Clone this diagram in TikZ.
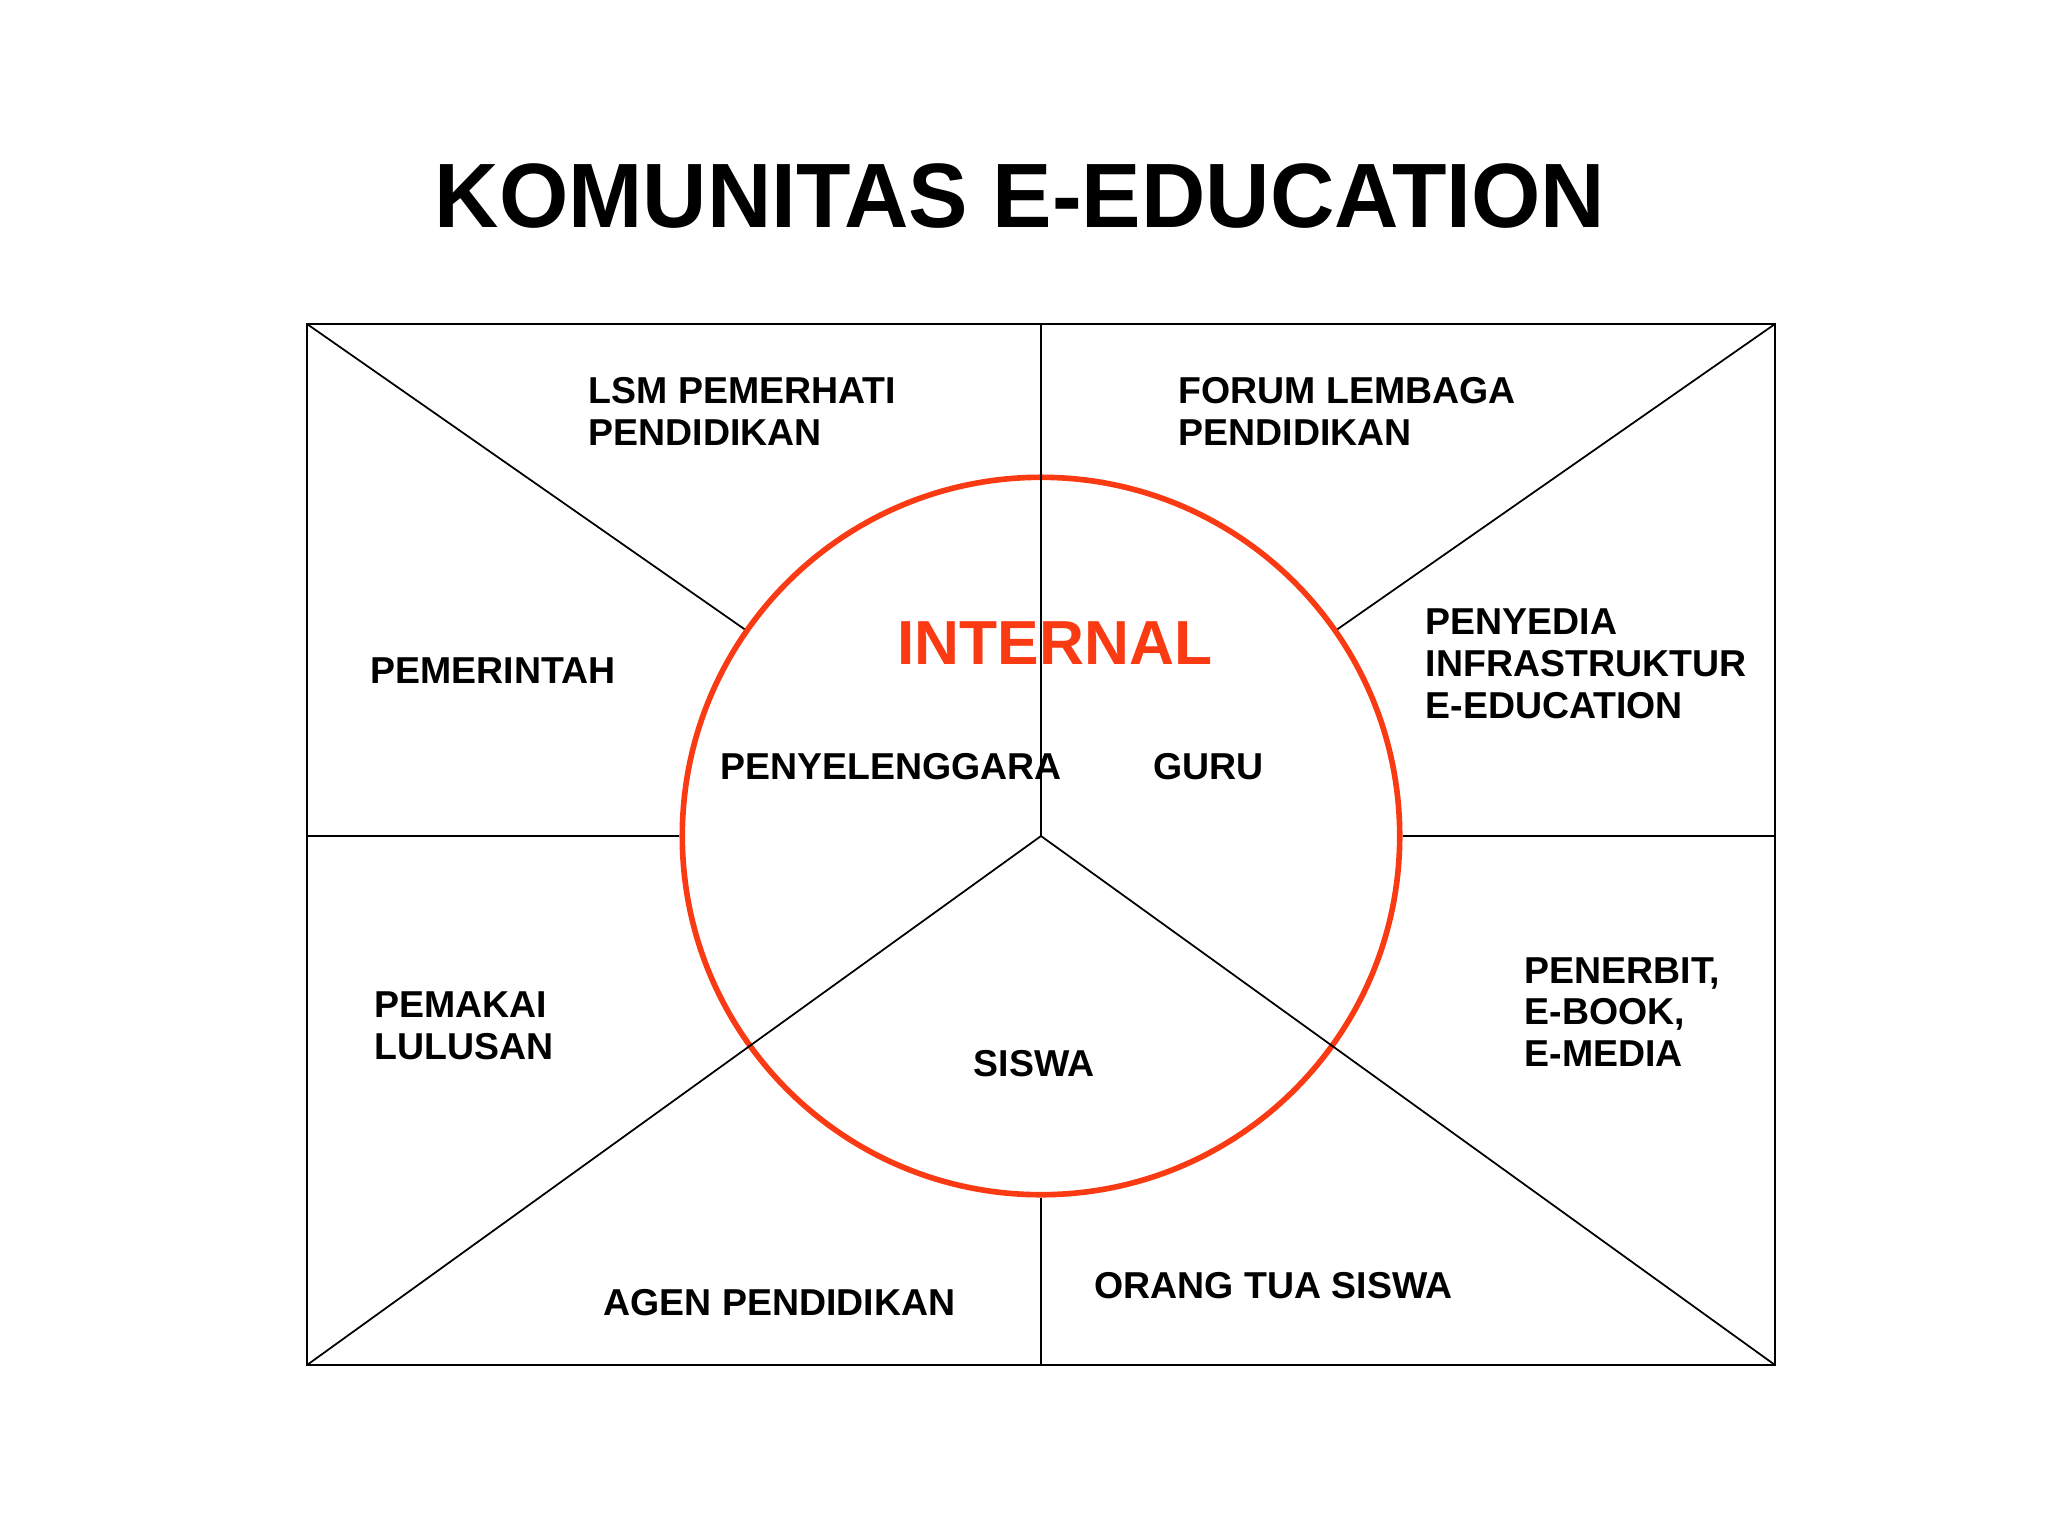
\documentclass[tikz,border=0pt]{standalone}
\usepackage{fontspec}
\setmainfont{Liberation Sans}
\definecolor{intred}{RGB}{250,58,18}
\tikzset{
  lbl/.style={font=\fontsize{10.65}{11.9}\selectfont\bfseries, align=left, inner sep=0pt, anchor=west},
  thin/.style={line width=0.5pt}
}
\begin{document}
\begin{tikzpicture}[x=0.01cm, y=-0.01cm]
\useasboundingbox (0,0) rectangle (2048,1536);
\node[font=\fontsize{26}{30}\selectfont\bfseries] (title) at (1020,196){\scalebox{0.975}[1]{KOMUNITAS E-EDUCATION}};
\coordinate (tl) at (307,324);
\coordinate (tr) at (1775,324);
\coordinate (bl) at (307,1365);
\coordinate (br) at (1775,1365);
\coordinate (top) at (1041,324);
\coordinate (bot) at (1041,1365);
\coordinate (lft) at (307,836);
\coordinate (rgt) at (1775,836);
\coordinate (mid) at (1041,836);
\node[circle, draw=intred, line width=1.6pt, minimum size=7.17cm, inner sep=0pt] (circ) at (mid){};
\draw[thin] (tl) rectangle (br);
\draw[thin] (top) -- (mid);
\draw[thin] (circ.south) -- (bot);
\draw[thin] (lft) -- (circ.west);
\draw[thin] (circ.east) -- (rgt);
\draw[thin] (tl) -- (circ);
\draw[thin] (tr) -- (circ);
\draw[thin] (bl) -- (mid);
\draw[thin] (br) -- (mid);
\node[font=\fontsize{17.7}{20}\selectfont\bfseries, text=intred, inner sep=0pt] (internal) at (1055,643){INTERNAL};
\node[lbl] (lsm) at (588,411){LSM PEMERHATI\\PENDIDIKAN};
\node[lbl] (forum) at (1178,411){FORUM LEMBAGA\\PENDIDIKAN};
\node[lbl] (pemerintah) at (370,671){PEMERINTAH};
\node[lbl] (penyedia) at (1425,664){PENYEDIA\\INFRASTRUKTUR\\E-EDUCATION};
\node[lbl] (penyelenggara) at (720,767){PENYELENGGARA};
\node[lbl] (guru) at (1153,767){GURU};
\node[lbl] (pemakai) at (374,1026){PEMAKAI\\LULUSAN};
\node[lbl] (siswa) at (973,1064){SISWA};
\node[lbl] (penerbit) at (1524,1012){PENERBIT,\\E-BOOK,\\E-MEDIA};
\node[lbl] (agen) at (603,1303){AGEN PENDIDIKAN};
\node[lbl] (orangtua) at (1094,1286){ORANG TUA SISWA};
\end{tikzpicture}
\end{document}
